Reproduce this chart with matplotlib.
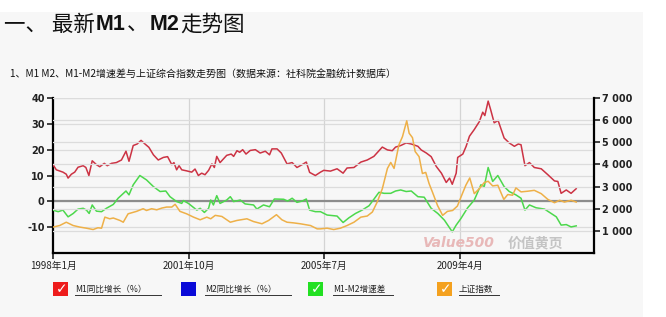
import matplotlib
matplotlib.use("Agg")
import matplotlib.pyplot as plt
from matplotlib.patches import Rectangle
from matplotlib.lines import Line2D

plt.rcParams['font.family'] = ['Noto Sans CJK SC', 'DejaVu Sans']

# ---------------- data (months since 1998-01) ----------------
m1_months = [0, 1.1, 3.3, 4.4, 5, 6.1, 7.2, 8.3, 10, 10.9, 11.9, 13, 14.4, 15.5, 17, 18, 19.4, 21, 22.7,
             24.2, 25.2, 26.6, 27.9, 29.2, 30.5, 31.8, 33.3, 34.9, 36.6, 38, 39.4, 40.1, 41, 41.8, 42.7,
             44.3, 46, 47.1, 48.2, 49.3, 50.4, 51.6, 52.7, 53.5, 54.3, 55.4, 57.6, 59.1, 59.9, 61, 61.9,
             62.9, 64, 65.4, 67.1, 68.7, 70.4, 71.8, 72.6, 74.3, 75.7, 77.6, 79.3, 80.9, 82.6, 84, 85.1,
             87, 88.7, 89.8, 92, 94.2, 96.2, 97.5, 99.8, 102.1, 104.2, 106.4, 109.2, 110.9, 112.5, 113.6,
             115.3, 117.1, 118.8, 121, 122.1, 123.8, 125.4, 127.1, 128.8, 130.4, 131.5, 132.4, 133.7,
             134.2, 135.9, 137, 138.1, 139.7, 141.4, 142.5, 143.2, 144.3, 145.1, 146.3, 147.6, 149.6,
             151.3, 153, 154.3, 155.2, 156.5, 158, 159.6, 161.9, 164.1, 166.3, 167.4, 168.5, 170.2,
             171.8, 173.5]
m1_growth = [14.2, 12.2, 11.3, 10.5, 9, 10.5, 11.3, 13.2, 13.8, 13.1, 10, 15.7, 14.2, 13.4, 14.7, 13.8,
             14.7, 15, 16, 19.4, 15.5, 21.6, 22.2, 23.6, 22.2, 20.9, 18, 16, 17, 17.3, 14.2, 15, 12.2,
             13.8, 12.2, 11.8, 11.3, 12.5, 10, 10.9, 10.3, 12, 14.5, 13.1, 17.4, 15, 17.8, 18.3, 17.4,
             19.6, 19, 20, 18.3, 19.7, 20, 18.7, 19.4, 18, 20.3, 20.3, 18.7, 14.5, 15, 13.1, 14.2, 15.2,
             11.2, 10, 11.3, 12, 11.7, 12.6, 10.9, 12.9, 13.1, 15.2, 16, 17.4, 21, 19.9, 19.6, 21, 21.6,
             22.6, 22.2, 21.3, 19.9, 18.7, 17.3, 13.5, 10.9, 7.3, 9, 6.6, 10.9, 17, 18.3, 21.3, 25.2,
             27.8, 30.9, 34.5, 33.2, 38.8, 35.6, 30.4, 31.3, 24.5, 22.6, 21.3, 22.2, 21.9, 13.8, 15,
             13.1, 12.6, 10.3, 7.9, 7.7, 3.1, 4.4, 3.1, 4.9]

diff_months = [0, 1.7, 3.3, 5, 6.7, 8.3, 10, 11.1, 12, 13, 14.4, 16.1, 17.7, 20, 21.6, 24.2, 25.2, 26.6,
               28.8, 31, 33.3, 35.5, 37.4, 38.8, 41, 42.7, 43.2, 44.9, 47.7, 48.8, 50.2, 51.6, 52.3,
               53.2, 54.3, 55.4, 57.6, 58.8, 59.9, 62.1, 63.7, 66.5, 67.6, 69.8, 71.8, 73.4, 76.5, 77.8,
               79.3, 80.9, 82.6, 84, 85.1, 87, 88.7, 90.9, 94.2, 96.2, 98.1, 100.3, 102.5, 104.8, 106.4,
               108.1, 109.8, 112, 113.6, 115.3, 117.1, 118.8, 121, 123.1, 125.4, 127.6, 129.8, 132.4,
               133.7, 135.3, 137.5, 139.7, 141.9, 143, 144.3, 145.8, 147.5, 149.6, 151.3, 153.5, 155.2,
               156.5, 158, 160.2, 163, 165.2, 166.9, 168.5, 170.2, 171.8, 173.5]
m1_m2_diff = [-3.4, -4, -3.4, -6, -4.7, -3, -2.7, -3.4, -4.7, -1.4, -3.8, -4, -2.7, -1.2, 1.2, 4, 2.5,
              6.4, 10, 8.3, 5.7, 3.8, 4, 1.8, -0.1, -0.8, 0.3, -0.8, -3.4, -2.7, -4.3, -2.7, 0.5, -1.4,
              2.2, -0.8, 0.5, 1.8, -0.1, 0.5, -1, -1.4, -3, -1.4, -2.1, 0.9, 0.8, 0.1, 1.2, -0.4, 0.1,
              0.9, -3.4, -4, -4, -5.3, -5.7, -8.2, -6.4, -4.7, -3.4, -1.7, 0.8, 3.5, 3.1, 3.1, 4, 4.4,
              3.8, 4, 1.8, 1.6, -2.7, -4.7, -7.3, -11.8, -9.2, -6.6, -2.5, 0.5, 6.4, 5.7, 13.1, 7.7,
              10, 5.7, 3.8, 2.5, 1.2, -3.4, -1.4, -2.5, -3, -4.7, -6, -9.2, -9, -9.9, -9.5]

sse_months = [0, 2.2, 4.4, 6.7, 8.9, 11.1, 13.3, 14.9, 16.1, 17.2, 18.8, 20, 22.2, 23.3, 24.9, 27.7,
              29.9, 31, 32.7, 34.4, 36.1, 37.7, 39.4, 40.5, 42.1, 44.3, 46.6, 48.8, 51, 52.3, 53.8, 56,
              58.8, 61, 64.3, 66.5, 69.3, 71.5, 74.1, 75.9, 77.6, 79.8, 82, 85.4, 87.6, 88.7, 90.9,
              93.1, 95.3, 97.5, 99.8, 102.1, 104.2, 105.9, 107.5, 109.2, 110.9, 112, 113.1, 114.7,
              115.9, 117.3, 118.1, 119.2, 120.1, 121.4, 122.5, 123.6, 124.7, 125.8, 127.5, 129.2,
              130.8, 132.5, 134.1, 135.3, 136.9, 138.2, 139.7, 141.4, 143, 144.3, 145.8, 147.5, 149.5,
              150.8, 152.4, 153.5, 155.2, 157.4, 159.6, 161.9, 164.1, 166.3, 168, 169.6, 171.8, 173.5]
sse_index = [1170, 1240, 1390, 1240, 1170, 1120, 1060, 1140, 1120, 1620, 1545, 1580, 1470, 1390, 1770,
             1880, 2000, 1920, 2000, 1950, 2030, 2075, 2075, 2200, 1880, 1770, 1620, 1500, 1620, 1545,
             1700, 1650, 1390, 1470, 1545, 1420, 1320, 1470, 1730, 1500, 1390, 1360, 1320, 1240, 1090,
             1090, 1120, 1060, 1120, 1240, 1390, 1620, 1670, 1850, 2300, 2900, 3820, 4090, 3820, 4880,
             5260, 5970, 5410, 5210, 4580, 4350, 3590, 3640, 3140, 2760, 2150, 1700, 1880, 1920, 2120,
             2530, 3060, 3390, 2680, 2910, 3180, 3240, 3030, 3060, 2420, 2640, 2610, 2940, 2760, 2790,
             2830, 2680, 2420, 2270, 2380, 2300, 2380, 2300]

x_tick_pos = [0, 45, 90, 135]
x_tick_labels = ["1998年1月", "2001年10月", "2005年7月", "2009年4月"]
left_ticks = [-10, 0, 10, 20, 30, 40]
right_ticks = [1000, 2000, 3000, 4000, 5000, 6000, 7000]
right_tick_labels = ["1 000", "2 000", "3 000", "4 000", "5 000", "6 000", "7 000"]
legend_labels = ["M1同比增长（%）", "M2同比增长（%）", "M1-M2增速差", "上证指数"]
legend_colors = ["#ee1c1c", "#0a0ad8", "#22e022", "#f4a11f"]

title_parts = [("一、 最新", "normal"), ("M1", "bold"), ("、", "normal"), ("M2", "bold"), ("走势图", "normal")]
subtitle_text = "1、M1 M2、M1-M2增速差与上证综合指数走势图（数据来源：社科院金融统计数据库）"

# ---------------- figure ----------------
W, H = 666, 317
fig = plt.figure(figsize=(W / 100, H / 100), dpi=100)
fig.patch.set_facecolor("white")
bg = "#f7f7f7"
fig.patches.append(Rectangle((0, 0), 643 / W, 1 - 12 / H, transform=fig.transFigure,
                             facecolor=bg, edgecolor="none", zorder=-10))

def fx(px):
    return px / W

def fy(py):
    return 1 - py / H

ax = fig.add_axes([fx(53), fy(253), fx(594) - fx(53), fy(98) - fy(253)])
ax.set_facecolor(bg)
ax2 = ax.twinx()

# grid lines
for v in left_ticks:
    ax.axhline(v, color="#dcdcdc", lw=0.9, zorder=0)
for v in right_ticks:
    ax2.axhline(v, color="#dcdcdc", lw=0.9, zorder=0)
for v in x_tick_pos[1:]:
    ax.axvline(v, color="#d4d4d4", lw=0.9, zorder=0)
ax.axhline(0, color="#8c8c8c", lw=1.6, zorder=1)

ax.plot(m1_months, m1_growth, color="#cc3344", lw=1.1, zorder=3)
ax.plot(diff_months, m1_m2_diff, color="#4cd84c", lw=1.1, zorder=3)
ax2.plot(sse_months, sse_index, color="#eeb048", lw=1.1, zorder=3)

ax.set_xlim(0, 179.4)
ax.set_ylim(-20, 40)
ax2.set_ylim(0, 7000)

ax.set_yticks(left_ticks)
ax.set_yticklabels([str(v) for v in left_ticks])
ax2.set_yticks(right_ticks)
ax2.set_yticklabels(right_tick_labels)
ax.set_xticks(x_tick_pos)
ax.set_xticklabels(x_tick_labels)

for a in (ax, ax2):
    a.spines["top"].set_visible(False)
ax.spines["right"].set_visible(False)
ax2.spines["left"].set_visible(False)
ax2.spines["bottom"].set_visible(False)
ax.spines["left"].set_linewidth(1.6)
ax.spines["bottom"].set_linewidth(1.6)
ax2.spines["right"].set_linewidth(1.6)

ax.tick_params(axis="y", direction="out", length=4, width=1.2, labelsize=7, pad=2, colors="#222222")
ax.tick_params(axis="x", direction="out", length=4, width=1.2, labelsize=7, pad=2, colors="#222222")
ax2.tick_params(axis="y", direction="out", length=4, width=1.2, labelsize=7, pad=2, colors="#222222")
for lbl in ax.get_yticklabels() + ax2.get_yticklabels():
    lbl.set_fontweight("bold")
    lbl.set_family(["DejaVu Sans"])

# watermark
fig.text(fx(423), fy(243), "Value500", fontsize=10, fontweight="bold", style="italic",
         color="#e8b8b8", va="center", ha="left", family=["DejaVu Sans"])
fig.text(fx(508), fy(243), "价值黄页", fontsize=10, fontweight="bold",
         color="#c4c4c4", va="center", ha="left")

# title built from pieces (bold M1 / M2)
renderer = fig.canvas.get_renderer()
cur_x = 4
for txt, wt in title_parts:
    if wt == "bold":
        t = fig.text(fx(cur_x), fy(25), txt, fontsize=15.5, fontweight="bold", color="#111111",
                     va="center", ha="left", family=["Liberation Sans", "DejaVu Sans"])
    else:
        t = fig.text(fx(cur_x), fy(25), txt, fontsize=15.5, color="#111111", va="center", ha="left")
    bb = t.get_window_extent(renderer=renderer)
    cur_x += bb.width + 1

fig.text(fx(10), fy(75), subtitle_text, fontsize=7.2, color="#111111", va="center", ha="left")

# legend
box_x = [53, 181, 308, 437]
lab_x = [75, 205, 333, 459]
lab_w = [86, 86, 60, 40]
ly = 289
bw, bh = 15, 14
for bx, tx, tw, lab, col in zip(box_x, lab_x, lab_w, legend_labels, legend_colors):
    fig.patches.append(Rectangle((fx(bx), fy(ly + bh / 2)), bw / W, bh / H, transform=fig.transFigure,
                                 facecolor=col, edgecolor="none"))
    if col != "#0a0ad8":
        fig.text(fx(bx + bw / 2 + 1), fy(ly), "✓", fontsize=10, fontweight="bold", color="white",
                 ha="center", va="center", family=["DejaVu Sans"])
    fig.text(fx(tx), fy(ly), lab, fontsize=6.2, color="#222222", ha="left", va="center")
    fig.lines.append(Line2D([fx(tx), fx(tx + tw)], [fy(ly + 6), fy(ly + 6)], transform=fig.transFigure,
                            color="#333333", lw=0.7))

fig.savefig("out.png", dpi=100, facecolor=fig.get_facecolor())
